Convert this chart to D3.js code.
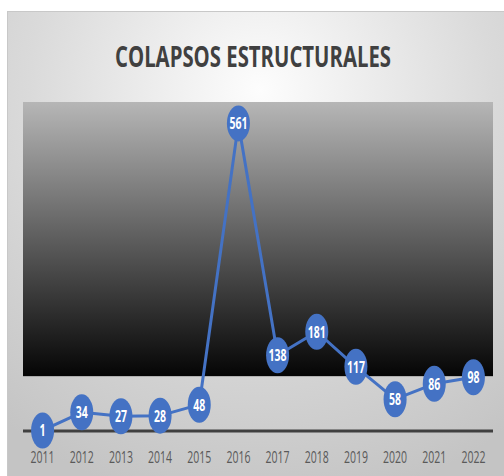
<!DOCTYPE html>
<html><head><meta charset="utf-8">
<script src="https://cdn.jsdelivr.net/npm/d3@7"></script>
<style>body{margin:0;background:#fff;}svg{display:block;}</style>
</head><body>
<svg id="c" width="504" height="476"></svg>
<script>
const title = "COLAPSOS ESTRUCTURALES";
const years = ["2011","2012","2013","2014","2015","2016","2017","2018","2019","2020","2021","2022"];
const values = [1,34,27,28,48,561,138,181,117,58,86,98];
const yDomain = [0,600];
const bandBottomValue = 100;

(function(){
const svg = d3.select("#c");
const defs = svg.append("defs");
const rg = defs.append("radialGradient").attr("id","bg").attr("gradientUnits","userSpaceOnUse")
  .attr("cx",260).attr("cy",90).attr("r",420);
rg.append("stop").attr("offset","0").attr("stop-color","#fdfdfd");
rg.append("stop").attr("offset","0.55").attr("stop-color","#dadada");
rg.append("stop").attr("offset","1").attr("stop-color","#c4c4c4");
const lg = defs.append("linearGradient").attr("id","plotbg").attr("x1",0).attr("y1",0).attr("x2",0).attr("y2",1);
lg.append("stop").attr("offset","0").attr("stop-color","#b6b6b6");
lg.append("stop").attr("offset","1").attr("stop-color","#050505");

// outer frame
svg.append("rect").attr("x",7.5).attr("y",11.5).attr("width",500).attr("height",470)
  .attr("fill","url(#bg)").attr("stroke","#c8c8c8").attr("stroke-width",1);

const pLeft = 23, pRight = 493, pTop = 102, axisY = 431;
const x = d3.scaleBand().domain(years).range([pLeft,pRight]);
const y = d3.scaleLinear().domain(yDomain).range([axisY, pTop]);
const cx = d => x(d) + x.bandwidth()/2;

// dark plot band
svg.append("rect").attr("x",pLeft).attr("y",y(yDomain[1]))
  .attr("width",pRight-pLeft).attr("height",y(bandBottomValue)-y(yDomain[1]))
  .attr("fill","url(#plotbg)");

// title
svg.append("text").attr("x",253).attr("y",67).attr("text-anchor","middle")
  .attr("font-family","'Open Sans', sans-serif").attr("font-weight","bold").attr("font-size",28)
  .attr("fill","#404040").attr("textLength",276).attr("lengthAdjust","spacingAndGlyphs").text(title);

// axis line
svg.append("line").attr("x1",pLeft).attr("x2",pRight).attr("y1",axisY).attr("y2",axisY)
  .attr("stroke","#404040").attr("stroke-width",3);

// year labels
svg.append("g").selectAll("text").data(years).join("text")
  .attr("x",d=>cx(d)).attr("y",463).attr("text-anchor","middle")
  .attr("font-family","'Open Sans', sans-serif").attr("font-size",17).attr("fill","#595959")
  .attr("textLength",24).attr("lengthAdjust","spacingAndGlyphs").text(d=>d);

const data = years.map((yr,i)=>({yr, v:values[i]}));
// line
svg.append("path").datum(data)
  .attr("d", d3.line().x(d=>cx(d.yr)).y(d=>y(d.v)))
  .attr("fill","none").attr("stroke","#4472C4").attr("stroke-width",3).attr("stroke-linejoin","round");

// markers
const g = svg.append("g").selectAll("g").data(data).join("g")
  .attr("transform",d=>`translate(${cx(d.yr)},${y(d.v)})`);
g.append("ellipse").attr("rx",11.5).attr("ry",18).attr("fill","#4472C4");
g.append("text").attr("text-anchor","middle").attr("y",6)
  .attr("font-family","'Open Sans', sans-serif").attr("font-weight","bold").attr("font-size",16)
  .attr("fill","#ffffff").attr("textLength",d=>String(d.v).length*6)
  .attr("lengthAdjust","spacingAndGlyphs").text(d=>d.v);
})();
</script>
</body></html>
